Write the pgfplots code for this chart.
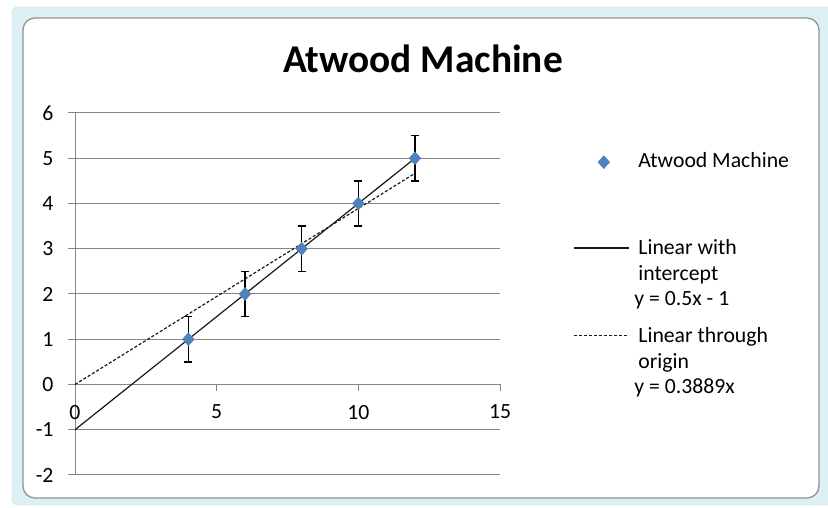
\documentclass[border=0pt]{standalone}
\usepackage{pgfplots}
\pgfplotsset{compat=1.18}
\usepackage{fontspec}
\setmainfont{Carlito}
\definecolor{gridgray}{HTML}{868686}
\definecolor{ptblue}{HTML}{4F81BD}
\definecolor{selblue}{HTML}{DDF0F4}
\definecolor{selborder}{HTML}{B8D6DD}
\newcommand{\lbl}{\fontsize{21.8}{25.5}\selectfont}
\pgfplotsset{
  linelegend/.style={legend image code/.code={\draw[##1] (0bp,7bp) -- (55bp,7bp);}},
  marklegend/.style={legend image code/.code={
    \draw[##1, only marks] plot coordinates {(30bp,5bp)};}},
}
\begin{document}
\begin{tikzpicture}[x=1bp,y=1bp]
\useasboundingbox (0,0) rectangle (828,508);
\fill[white] (0,0) rectangle (828,508);
\filldraw[fill=selblue, draw=selborder, rounded corners=6bp] (12,3) rectangle (834,501);
\filldraw[fill=white, draw=gray!85, line width=1.3bp, rounded corners=12bp] (23,10) rectangle (819,490);
\node[anchor=base, font=\fontsize{39.5}{46}\selectfont\bfseries] at (423,435) {Atwood Machine};
\begin{axis}[
  at={(75bp,33bp)}, anchor=south west,
  scale only axis, width=425bp, height=362bp,
  xmin=0, xmax=15, ymin=-2, ymax=6,
  xtick={0,5,10,15}, ytick={-2,-1,0,1,2,3,4,5,6},
  axis x line=middle, axis y line=left,
  axis line style={gridgray, line width=1bp, -},
  hide obscured x ticks=false, hide obscured y ticks=false,
  ymajorgrids, grid style={gridgray, line width=1bp},
  tick style={gridgray, line width=1bp},
  major tick length=7bp, tick align=outside,
  /pgf/number format/assume math mode=true,
  ticklabel style={font=\lbl, text=black},
  xticklabel style={yshift=-10bp},
  yticklabel style={xshift=-11bp},
  clip=false,
  legend style={at={(1.1718,0.9)}, anchor=north west, draw=none, fill=none,
    inner sep=0pt, column sep=9bp, row sep=68.5bp, font=\lbl,
    nodes={inner sep=0pt}, cells={anchor=base west}},
]
\addplot+[only marks, mark=diamond*, mark size=6.5bp,
  mark options={fill=ptblue, draw=ptblue, xscale=1.2}, marklegend,
  error bars/.cd, y dir=both, y explicit,
  error bar style={black, line width=1.3bp},
  error mark options={rotate=90, black, mark size=4bp, line width=1.3bp}]
  table[x=x, y=y, y error=err] {
x y err
4 1 0.5
6 2 0.5
8 3 0.5
10 4 0.5
12 5 0.5
};
\addlegendentry{\begin{tabular}[t]{@{}l@{}}Atwood Machine\end{tabular}}
\addplot[black!90, line width=1.2bp, linelegend]
  coordinates {(0,-1) (12,5)};
\addlegendentry{\begin{tabular}[t]{@{}l@{}}Linear with\\intercept\\\hspace*{-4bp}y = 0.5x - 1\end{tabular}}
\addplot[black!90, line width=1.2bp, dash pattern=on 3bp off 2bp, linelegend]
  coordinates {(0,0) (12,4.6668)};
\addlegendentry{\begin{tabular}[t]{@{}l@{}}Linear through\\origin\\\hspace*{-4bp}y = 0.3889x\end{tabular}}
\end{axis}
\end{tikzpicture}
\end{document}
